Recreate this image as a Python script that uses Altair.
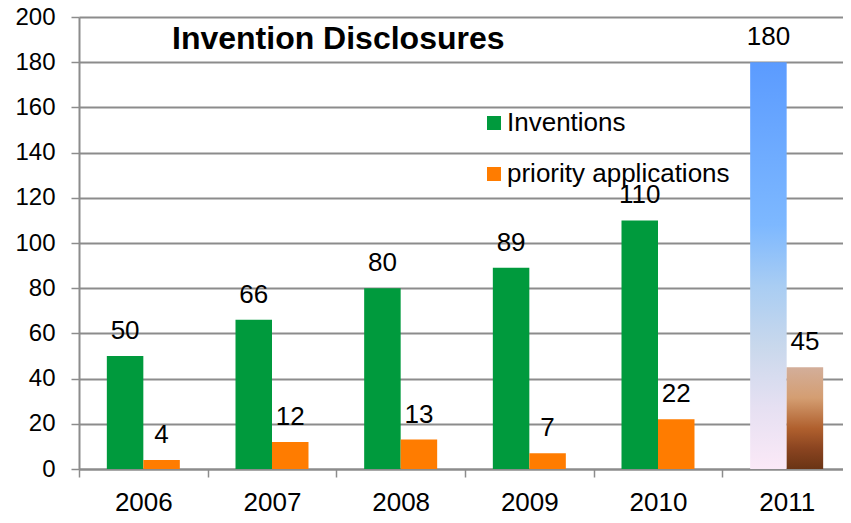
import altair as alt
import pandas as pd

years = ["2006", "2007", "2008", "2009", "2010", "2011"]
inventions = [50, 66, 80, 89, 110, 180]
priority = [4, 12, 13, 7, 22, 45]
series_names = ["Inventions", "priority applications"]
series_colors = ["#009A3D", "#FF7C00"]
title_text = "Invention Disclosures"

rows = []
for y, a, b in zip(years, inventions, priority):
    rows.append({"year": y, "series": series_names[0], "value": a})
    rows.append({"year": y, "series": series_names[1], "value": b})
df = pd.DataFrame(rows)

FONT = "Liberation Sans"
GRID = "#8C8C8C"

x_enc = alt.X("year:N", scale=alt.Scale(domain=years, paddingInner=0, paddingOuter=0, range=[0, 772]),
              axis=alt.Axis(title=None, tickBand="extent", labelFontSize=26, labelFont=FONT,
                            labelColor="#000", labelPadding=12, tickSize=8, tickColor=GRID,
                            tickWidth=1.5, domainColor=GRID, domainWidth=2, labelAngle=0,
                            grid=False))
xo_enc = alt.XOffset("series:N", scale=alt.Scale(domain=series_names, paddingInner=0, paddingOuter=0.7626))
y_enc = alt.Y("value:Q", scale=alt.Scale(domain=[0, 200], nice=False),
              axis=alt.Axis(title=None, values=list(range(0, 201, 20)), labelFontSize=24,
                            labelFont=FONT, labelColor="#000", labelPadding=16, tickSize=8,
                            tickColor=GRID, tickWidth=1.5, domainColor=GRID, domainWidth=2,
                            gridColor=GRID, gridWidth=2, grid=True))

base = alt.Chart(df)

bars = base.transform_filter(alt.datum.year != "2011").mark_bar().encode(
    x=x_enc, xOffset=xo_enc, y=y_enc,
    color=alt.Color("series:N", scale=alt.Scale(domain=series_names, range=series_colors),
                    legend=alt.Legend(title=None, orient="none", legendX=402, legendY=93,
                                      symbolType="square", symbolSize=196, symbolStrokeWidth=0,
                                      labelFontSize=26, labelFont=FONT, labelColor="#000",
                                      labelLimit=500, rowPadding=25, labelOffset=0, padding=0)),
)

blue_grad = alt.LinearGradient(
    gradient="linear", x1=0, x2=0, y1=0, y2=1,
    stops=[alt.GradientStop(color="#5B9BFF", offset=0),
           alt.GradientStop(color="#7DB8FF", offset=0.4),
           alt.GradientStop(color="#A9CDF3", offset=0.55),
           alt.GradientStop(color="#C9D8EC", offset=0.7),
           alt.GradientStop(color="#E6E0F2", offset=0.85),
           alt.GradientStop(color="#FBE9F7", offset=1)])
brown_grad = alt.LinearGradient(
    gradient="linear", x1=0, x2=0, y1=0, y2=1,
    stops=[alt.GradientStop(color="#D3AE9A", offset=0),
           alt.GradientStop(color="#D49E72", offset=0.3),
           alt.GradientStop(color="#B0602E", offset=0.6),
           alt.GradientStop(color="#8A4420", offset=0.8),
           alt.GradientStop(color="#6A3415", offset=1)])

g1 = base.transform_filter((alt.datum.year == "2011") & (alt.datum.series == series_names[0])).mark_bar(
    color=blue_grad).encode(x=x_enc, xOffset=xo_enc, y=y_enc)
g2 = base.transform_filter((alt.datum.year == "2011") & (alt.datum.series == series_names[1])).mark_bar(
    color=brown_grad).encode(x=x_enc, xOffset=xo_enc, y=y_enc)

labels = base.mark_text(baseline="alphabetic", dy=-17, fontSize=26, font=FONT, color="#000").encode(
    x=x_enc, xOffset=xo_enc, y=y_enc, text="value:Q")

title = alt.Chart(pd.DataFrame({"t": [title_text]})).mark_text(
    align="left", baseline="alphabetic", fontSize=32, font=FONT, fontWeight="bold", color="#000"
).encode(x=alt.value(93), y=alt.value(32), text="t:N")

chart = alt.layer(bars, g1, g2, labels, title).properties(
    width=764, height=452,
    autosize=alt.AutoSizeParams(type="none"),
    padding={"left": 71, "top": 9, "right": 0, "bottom": 42},
).configure_view(stroke=None).configure(background="white")

chart.save("out.html", embed_options={"renderer": "svg", "actions": False})
